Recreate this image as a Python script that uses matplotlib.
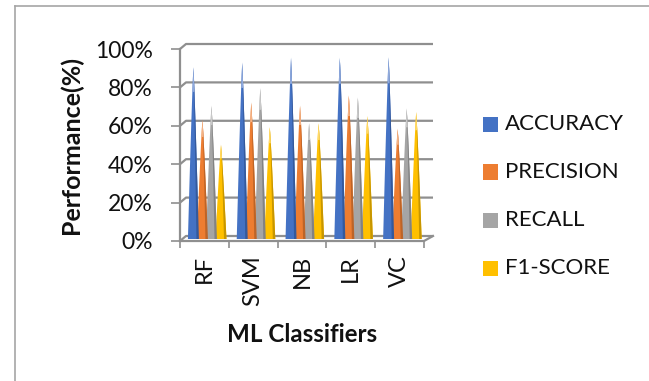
import matplotlib
matplotlib.use("Agg")
import matplotlib.pyplot as plt
import numpy as np
from matplotlib.patches import Rectangle
from matplotlib.lines import Line2D

classifiers = ["RF", "SVM", "NB", "LR", "VC"]
metrics = ["ACCURACY", "PRECISION", "RECALL", "F1-SCORE"]
accuracy = [89.4, 91.8, 94.3, 94.3, 94.6]
precision = [62.0, 71.0, 69.3, 74.7, 57.3]
recall = [69.3, 78.5, 60.2, 73.6, 67.9]
f1_score = [49.0, 58.2, 60.2, 64.0, 66.1]
y_ticks = [0, 20, 40, 60, 80, 100]

plt.rcParams['font.family'] = ['Lato', 'DejaVu Sans']

W, H = 649, 381
fig = plt.figure(figsize=(W / 100, H / 100), dpi=100)

# axes sits on the front plane of the fake 3d box
left, right, bottom, top = 180, 424, 241, 49
ax = fig.add_axes([left / W, 1 - bottom / H, (right - left) / W, (bottom - top) / H])
ax.set_xlim(0, len(classifiers))
ax.set_ylim(0, 100)
ax.patch.set_alpha(0)
for s in ax.spines.values():
    s.set_visible(False)

px = len(classifiers) / (right - left)
py = 100 / (bottom - top)
dx, dy = 6 * px, 5 * py
grid = "#8f8f8f"

# back wall gridlines, side wall and floor
for v in y_ticks:
    ax.plot([0, dx, len(classifiers) + dx * 1.5], [v, v + dy, v + dy], color=grid, lw=1.6,
            clip_on=False, solid_capstyle="butt", zorder=1)
ax.plot([0, 0], [0, 100], color=grid, lw=1.6, clip_on=False, zorder=1)
ax.plot([0, len(classifiers), len(classifiers) + dx * 1.5], [0, 0, dy], color=grid, lw=1.6,
        clip_on=False, zorder=1)


def cone(x, v, w, color, dark, light):
    y0 = 2 * py
    h = np.linspace(0, 1, 15)
    half = w / 2 * (1 - h) ** 0.85
    ys = y0 + v * h
    ax.fill(np.r_[x - half, (x + half)[::-1]], np.r_[ys, ys[::-1]], color=color, lw=0, zorder=3)
    # shaded right edge
    ax.fill(np.r_[x + half * 0.55, (x + half)[::-1]], np.r_[ys, ys[::-1]], color=dark, lw=0, zorder=4)
    # pale tip
    tip = h >= 0.85
    ax.fill(np.r_[(x - half)[tip], (x + half)[tip][::-1]], np.r_[ys[tip], ys[tip][::-1]],
            color=light, lw=0, zorder=5)


series = [accuracy, precision, recall, f1_score]
colors = ["#4472c4", "#ed7d31", "#a5a5a5", "#ffc000"]
darks = ["#34599c", "#bd6427", "#828282", "#c79600"]
lights = ["#8fa9dc", "#f4b183", "#c9c9c9", "#ffd966"]
offsets = [-0.285, -0.1, 0.085, 0.28]
for vals, c, d, l, off in zip(series, colors, darks, lights, offsets):
    for i, v in enumerate(vals):
        cone(i + 0.5 + 0.06 + off, v, 0.225, c, d, l)

ax.set_xticks(range(len(classifiers) + 1))
ax.set_xticks([i + 0.5 for i in range(len(classifiers))], minor=True)
ax.set_xticklabels([])
ax.set_xticklabels(classifiers, minor=True, rotation=90, fontsize=17, color="#111111")
ax.set_yticks(y_ticks)
ax.set_yticklabels([f"{v}%" for v in y_ticks], fontsize=16.5, color="#111111")
ax.tick_params(axis="y", which="major", length=6.5, width=1.2, color=grid, pad=13)
ax.tick_params(axis="x", which="major", length=5, width=1.2, color=grid)
ax.tick_params(axis="x", which="minor", length=0, pad=10)

fig.text(71 / W, 1 - 145 / H, "Performance(%)", rotation=90, ha="center", va="center",
         fontsize=18, fontweight="bold", color="#111111")
fig.text(302 / W, 1 - 335 / H, "ML Classifiers", ha="center", va="center",
         fontsize=17.4, fontweight="bold", color="#111111")

# legend by hand for exact spacing
for name, c, yy in zip(metrics, colors, [124.5, 172, 220, 268]):
    fig.add_artist(Rectangle((483 / W, 1 - (yy + 7.5) / H), 15 / W, 15 / H, color=c, lw=0,
                             transform=fig.transFigure))
    fig.text(505 / W, 1 - yy / H, name, ha="left", va="center", fontsize=16, color="#111111")

# chart frame
frame = "#a6a6a6"
fig.add_artist(Line2D([15 / W, 15 / W], [0, 1 - 6 / H], color=frame, lw=1.2))
fig.add_artist(Line2D([15 / W, 1], [1 - 6 / H, 1 - 6 / H], color=frame, lw=1.2))

fig.savefig("out.png", dpi=100)
